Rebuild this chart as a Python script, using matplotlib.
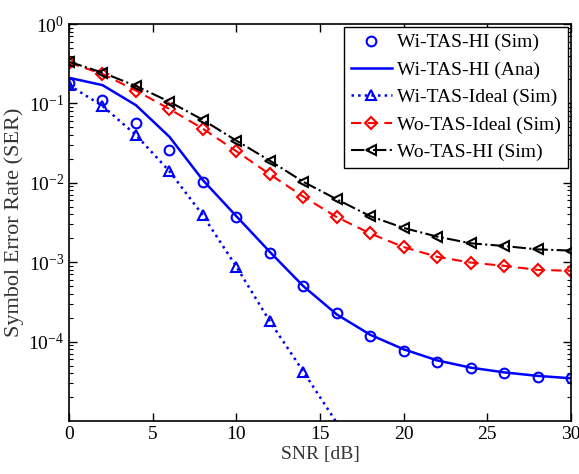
import matplotlib
matplotlib.use("Agg")
import matplotlib.pyplot as plt
import numpy as np

plt.rcParams['font.family'] = ['Liberation Serif', 'DejaVu Serif']
plt.rcParams['mathtext.fontset'] = 'custom'
plt.rcParams['mathtext.rm'] = 'Liberation Serif'
plt.rcParams['mathtext.it'] = 'Liberation Serif:italic'
plt.rcParams['mathtext.bf'] = 'Liberation Serif:bold'

snr = [0, 2, 4, 6, 8, 10, 12, 14, 16, 18, 20, 22, 24, 26, 28, 30]
wi_hi_sim = [0.18, 0.11, 0.057, 0.026, 0.0102, 0.0037, 0.0013, 5.0e-4, 2.27e-4,
             1.18e-4, 7.7e-5, 5.6e-5, 4.6e-5, 4.0e-5, 3.6e-5, 3.5e-5]
wi_hi_ana = [0.21, 0.17, 0.095, 0.038, 0.0108, 0.0038, 0.00135, 5.0e-4, 2.2e-4,
             1.22e-4, 8.0e-5, 5.8e-5, 4.7e-5, 4.1e-5, 3.7e-5, 3.45e-5]
snr_ideal = [0, 2, 4, 6, 8, 10, 12, 14, 16]
wi_ideal_sim = [0.17, 0.093, 0.040, 0.014, 0.0039, 8.8e-4, 1.8e-4, 4.2e-5, 9.5e-6]
wo_ideal_sim = [0.326, 0.235, 0.145, 0.085, 0.048, 0.025, 0.0128, 0.0067, 0.0037,
                0.0023, 0.00155, 0.00117, 0.00099, 0.00090, 0.00080, 0.00078]
wo_hi_sim = [0.335, 0.244, 0.166, 0.105, 0.062, 0.034, 0.019, 0.0103, 0.0062,
             0.0038, 0.0027, 0.0021, 0.00173, 0.0016, 0.00145, 0.0014]

labels = ['Wi-TAS-HI (Sim)', 'Wi-TAS-HI (Ana)', 'Wi-TAS-Ideal (Sim)',
          'Wo-TAS-Ideal (Sim)', 'Wo-TAS-HI (Sim)']

fig = plt.figure(figsize=(5.79, 4.74), dpi=100)
ax = fig.add_axes([69/579, 1-421/474, (571-69)/579, (421-24)/474])

ms = 7
ax.plot(snr, wi_hi_sim, linestyle='none', marker='o', color='blue', ms=ms,
        mfc='none', mew=1.5, label=labels[0])
ax.plot(snr, wi_hi_ana, linestyle='-', color='blue', lw=1.8, label=labels[1])
ax.plot(snr_ideal, wi_ideal_sim, linestyle=':', color='blue', lw=1.8, marker='^',
        ms=ms, mfc='none', mew=1.5, markevery=slice(0, 8), label=labels[2])
ax.plot(snr, wo_ideal_sim, linestyle='--', color='red', lw=1.5, marker='D',
        ms=6, mfc='none', mew=1.5, dashes=(5, 3), label=labels[3])
ax.plot(snr, wo_hi_sim, linestyle='-.', color='black', lw=1.5, marker='<',
        ms=ms, mfc='none', mew=1.5, label=labels[4])

ax.set_yscale('log')
ax.set_xlim(0, 30)
ax.set_ylim(1e-5, 1e0)
ax.set_xticks([0, 5, 10, 15, 20, 25, 30])
ax.set_yticks([1e0, 1e-1, 1e-2, 1e-3, 1e-4])
ax.set_yticklabels([r'$10^{0}$', r'$10^{-1}$', r'$10^{-2}$', r'$10^{-3}$', r'$10^{-4}$'])
ax.yaxis.set_minor_locator(matplotlib.ticker.LogLocator(base=10, subs=np.arange(2, 10), numticks=20))
ax.yaxis.set_minor_formatter(matplotlib.ticker.NullFormatter())
ax.tick_params(which='both', direction='in', top=True, right=True, labelsize=14)
ax.tick_params(which='major', length=6, width=1)
ax.tick_params(which='minor', length=3, width=0.8)
for s in ax.spines.values():
    s.set_linewidth(1.2)

ax.set_xlabel('SNR [dB]', fontsize=14, labelpad=2, color='#333333')
ax.set_ylabel('Symbol Error Rate (SER)', fontsize=16, labelpad=3, color='#333333')

leg = ax.legend(loc='upper right', fontsize=14, frameon=True, fancybox=False,
                edgecolor='black', framealpha=1, handlelength=2.1,
                borderaxespad=0.15, labelspacing=0.5, handletextpad=0.3,
                borderpad=0.35)
leg.get_frame().set_linewidth(1.0)

fig.savefig('out.png', dpi=100)
